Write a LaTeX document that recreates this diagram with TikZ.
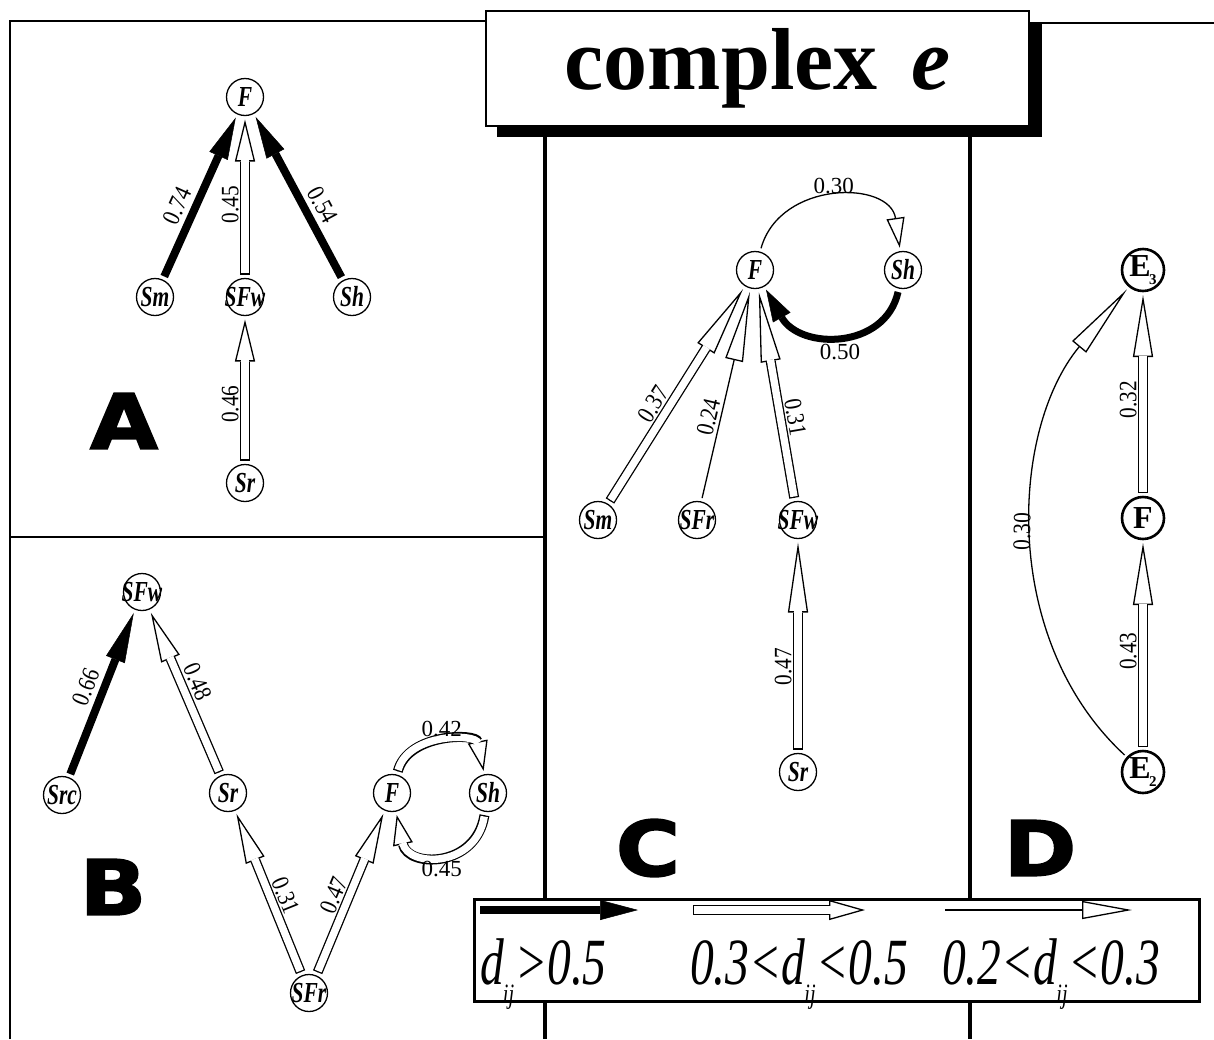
\documentclass[tikz,border=0pt]{standalone}
\usepackage{fontspec}
\setmainfont{Liberation Serif}
\newfontfamily\nfont[FakeStretch=0.74]{Liberation Serif}
\newfontfamily\lfont[FakeStretch=0.85]{Liberation Serif}
\newfontfamily\gfont[FakeStretch=0.72]{Liberation Serif}
\newfontfamily\pfont[FakeBold=2.5,FakeStretch=1.15]{DejaVu Sans}
\usetikzlibrary{arrows.meta}
\def\hl{45pt}
\tikzset{
 nd/.style={circle, draw, line width=1.3pt, minimum size=37pt, inner sep=0pt, outer sep=4pt,
   font=\nfont\bfseries\itshape\fontsize{29}{29}\selectfont},
 ndD/.style={circle, draw, line width=2.6pt, minimum size=42pt, inner sep=0pt, outer sep=4pt,
   font=\bfseries\fontsize{32}{32}\selectfont},
 lbl/.style={font=\lfont\fontsize{25}{25}\selectfont, inner sep=1pt},
 hlbl/.style={font=\fontsize{23}{23}\selectfont, inner sep=2pt},
 dhead/.style={line width=1.3pt, -{Triangle[length=\hl, width=20pt, fill=white, line width=1.3pt]}},
 dshaft/.style={line width=10pt, shorten >=\hl},
 dinner/.style={white, line width=7.4pt, shorten >=\hl-1.5pt, shorten <=1.3pt},
 bk/.style={line width=8pt, -{Triangle[length=\hl, width=20pt, line width=0.5pt]}},
 tn/.style={line width=1.3pt, -{Triangle[length=\hl, width=18pt, fill=white, line width=1.3pt]}},
 letter/.style={font=\pfont\bfseries\fontsize{76}{76}\selectfont, inner sep=0pt},
 frame/.style={line width=2.5pt},
 framek/.style={line width=3.5pt},
 legtxt/.style={font=\gfont\itshape\fontsize{66}{66}\selectfont, inner sep=0pt},
}
\newcommand\nl[1]{\makebox[0pt]{#1}}
\newcommand\dbl[2]{\draw[dhead] #1; \draw[dshaft] #1; \draw[dinner] #1; \path #1 #2;}
\newcommand\blk[2]{\draw[bk] #1 #2;}
\newcommand\thn[2]{\draw[tn] #1 #2;}
\newcommand\sub[1]{\kern-1pt\raisebox{-0.3em}{\fontsize{28}{28}\selectfont #1}\kern1pt}
\newcommand\esub[1]{\kern-1.5pt\raisebox{-0.25em}{\fontsize{15}{15}\selectfont #1}}
\begin{document}
\begin{tikzpicture}[x=1pt,y=-1pt]
\useasboundingbox (0,0) rectangle (1214,1039);
% frame
\draw[frame] (10,1039) -- (10,21) -- (490,21);
\draw[frame] (1030,23) -- (1214,23);
\draw[frame] (10,537) -- (545,537);
\draw[framek] (545,130) -- (545,1039);
\draw[framek] (970,130) -- (970,1039);
% title
\fill (497,22) rectangle (1042,137);
\node[draw, line width=2pt, fill=white, minimum width=543pt, minimum height=115pt, anchor=north west,
  font=\bfseries\fontsize{88}{88}\selectfont] (title) at (485,10) {complex\hspace{0.38em}\textit{e}};
% ---------- panel A
\def\hl{42pt}
\node[nd] (aF) at (245,97) {\nl{F}};
\node[nd] (aSm) at (155,297) {\nl{Sm}};
\node[nd] (aSFw) at (245,297) {\nl{SFw}};
\node[nd] (aSh) at (352,297) {\nl{Sh}};
\node[nd] (aSr) at (245,483) {\nl{Sr}};
\blk{(aSm) -- (aF)}{node[lbl,pos=.4,sloped,above=4pt]{0.74}}
\dbl{(aSFw) -- (aF)}{node[lbl,pos=.45,sloped,above=5pt]{0.45}}
\blk{(aSh) -- (aF)}{node[lbl,pos=.4,sloped,above=4pt]{0.54}}
\dbl{(aSr) -- (aSFw)}{node[lbl,pos=.4,sloped,above=5pt]{0.46}}
\node[letter] (lA) at (124,421) {A};
% ---------- panel B
\def\hl{50pt}
\node[nd] (bSFw) at (142,592) {\nl{SFw}};
\node[nd] (bSrc) at (62,795) {\nl{Src}};
\node[nd] (bSr) at (228,793) {\nl{Sr}};
\node[nd] (bF) at (392,793) {\nl{F}};
\node[nd] (bSh) at (488,793) {\nl{Sh}};
\node[nd] (bSFr) at (309,993) {\nl{SFr}};
\blk{(bSrc) -- (bSFw)}{node[lbl,pos=.5,sloped,above=4pt]{0.66}}
\dbl{(bSr) -- (bSFw)}{node[lbl,pos=.53,sloped,above=6pt]{0.48}}
\dbl{(bSFr) -- (bSr)}{node[lbl,pos=.45,sloped,above=5pt]{0.31}}
\dbl{(bSFr) -- (bF)}{node[lbl,pos=.45,sloped,above=5pt]{0.47}}
\def\hl{30pt}
\dbl{(bF) .. controls (408,733) and (476,733) .. (bSh)}{node[hlbl,pos=.5,above=4pt]{0.42}}
\dbl{(bSh) .. controls (476,868) and (408,868) .. (bF)}{node[hlbl,pos=.5,below=4pt]{0.45}}
\node[letter] (lB) at (113,887) {B};
% ---------- panel C
\def\hl{70pt}
\node[nd] (cF) at (755,270) {\nl{F}};
\node[nd] (cSh) at (903,270) {\nl{Sh}};
\node[nd] (cSm) at (598,520) {\nl{Sm}};
\node[nd] (cSFr) at (697,520) {\nl{SFr}};
\node[nd] (cSFw) at (798,520) {\nl{SFw}};
\node[nd] (cSr) at (798,772) {\nl{Sr}};
\dbl{(cSm) -- (cF)}{node[lbl,pos=.42,sloped,above=5pt]{0.37}}
\thn{(cSFr) -- (cF)}{node[lbl,pos=.38,sloped,above=2pt]{0.24}}
\dbl{(cSFw) -- (cF)}{node[lbl,pos=.38,sloped,above=5pt]{0.31}}
\dbl{(cSr) -- (cSFw)}{node[lbl,pos=.4,sloped,above=5pt]{0.47}}
\def\hl{30pt}
\thn{(cF) .. controls (780,180) and (890,180) .. (cSh)}{node[hlbl,pos=.5,above=1pt]{0.30}}
\draw[line width=7pt, -{Triangle[length=32pt,width=20pt,line width=0.5pt]}]
  (cSh) .. controls (885,350) and (800,350) .. (cF) node[hlbl,pos=.5,below=4pt]{0.50};
\node[letter] (lC) at (648,848) {C};
% ---------- panel D
\def\hl{62pt}
\node[ndD] (dE3) at (1143,270) {E\esub{3}};
\node[ndD] (dF) at (1143,518) {F};
\node[ndD] (dE2) at (1143,772) {E\esub{2}};
\dbl{(dF) -- (dE3)}{node[lbl,pos=.47,sloped,above=5pt]{0.32}}
\dbl{(dE2) -- (dF)}{node[lbl,pos=.47,sloped,above=5pt]{0.43}}
\def\hl{75pt}
\thn{(dE2) .. controls (1000,640) and (1010,430) .. (dE3)}{node[lbl,pos=.5,sloped,above=3pt]{0.30}}
\node[letter] (lD) at (1040,848) {D};
% ---------- legend
\node[draw, line width=3pt, fill=white, minimum width=725pt, minimum height=102pt, anchor=north west] (leg) at (473,898) {};
\coordinate (k1) at (480,910); \coordinate (k2) at (638,910);
\coordinate (k3) at (693,910); \coordinate (k4) at (865,910);
\coordinate (k5) at (945,910); \coordinate (k6) at (1132,910);
\def\hl{38pt}
\draw[bk] (k1) -- (k2);
\def\hl{36pt}
\dbl{(k3) -- (k4)}{}
\def\hl{50pt}
\draw[tn] (k5) -- (k6);
\node[legtxt, anchor=base west] (t1) at (480,984) {d\sub{ij}>0.5};
\node[legtxt, anchor=base west] (t2) at (690,984) {0.3<d\sub{ij}<0.5};
\node[legtxt, anchor=base west] (t3) at (942,984) {0.2<d\sub{ij}<0.3};
\end{tikzpicture}
\end{document}
